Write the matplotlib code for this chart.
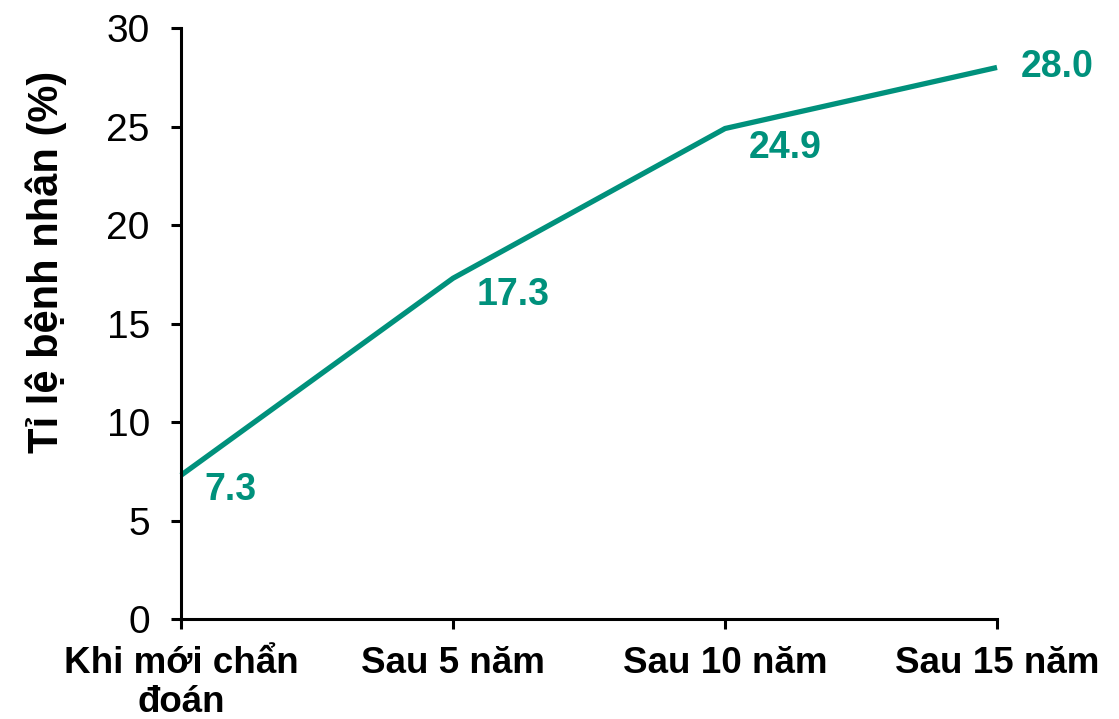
import matplotlib.pyplot as plt

plt.rcParams['font.family'] = ['Liberation Sans', 'DejaVu Sans']

# Proportion of patients over time since diagnosis
categories = ['Khi mới chẩn\nđoán', 'Sau 5 năm', 'Sau 10 năm', 'Sau 15 năm']
values = [7.3, 17.3, 24.9, 28.0]
label_offsets = [(17, 2), (17, 1), (17, -1), (17, 0)]
label_align = ['top', 'top', 'top', 'center']

TEAL = '#00917C'

fig = plt.figure(figsize=(11.19, 7.19), dpi=100)
ax = fig.add_axes([0.1618, 0.139, 0.7292, 0.822])

x = list(range(len(categories)))
ax.plot(x, values, color=TEAL, linewidth=3.8, solid_capstyle='butt', clip_on=False)

for xi, v, off, va in zip(x, values, label_offsets, label_align):
    ax.annotate(f'{v:.1f}', (xi, v), xytext=off, textcoords='offset points',
                ha='left', va=va, color=TEAL, fontsize=27, fontweight='bold')

ax.set_xlim(0, 3)
ax.set_ylim(0, 30)
ax.set_yticks(range(0, 31, 5))
ax.set_xticks(x)
ax.set_xticklabels(categories, fontsize=26.5, fontweight='bold', linespacing=1.15)
ax.tick_params(axis='y', labelsize=28, length=7.5, width=2.2, pad=15)
ax.tick_params(axis='x', length=7.5, width=2.2, pad=12)

for side in ('top', 'right'):
    ax.spines[side].set_visible(False)
for side in ('left', 'bottom'):
    ax.spines[side].set_linewidth(2.2)

ax.set_ylabel('Tỉ lệ bệnh nhân (%)', fontsize=30, fontweight='bold')
ax.yaxis.set_label_coords(-0.14, 0.604)

fig.savefig('out.png', dpi=100)
